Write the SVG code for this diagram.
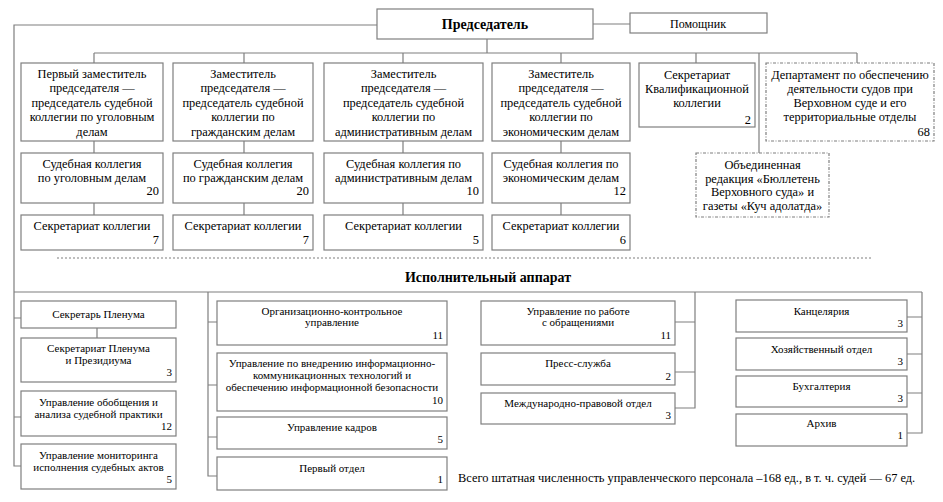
<svg xmlns="http://www.w3.org/2000/svg" width="943" height="502" viewBox="0 0 943 502">
<style>
text{font-family:"Liberation Serif","Times New Roman",serif;fill:#000}
.t{font-size:12.4px;text-anchor:middle}
.n{font-size:12.4px;text-anchor:end}
.s{font-size:11px;text-anchor:middle}
.sn{font-size:11px;text-anchor:end}
.b{font-size:14px;font-weight:bold;text-anchor:middle}
.box{fill:#fff;stroke:#7f7f7f;stroke-width:1.2}
.dash{fill:#fff;stroke:#7f7f7f;stroke-width:1.2;stroke-dasharray:3 1.5 1 1.5}
.ln{fill:none;stroke:#7f7f7f;stroke-width:1.2}
</style>
<rect width="943" height="502" fill="#fff"/>
<g id="connectors" class="ln">
<path d="M377 25H14V466H21"/>
<path d="M593 24H630"/>
<path d="M487 39V53M94 53H857M94 53V63M244 53V63M403 53V63M561 53V63M696 53V63M857 53V63M759 53V153"/>
<path d="M94 141V153M94 203V215M244 141V153M244 203V215M403 141V153M403 203V215M561 141V153M561 203V215"/>
<path d="M57 258H872" stroke-dasharray="2 2"/>
<path d="M14 292H922"/>
<path d="M14 318H21M14 417H21M97 328V338"/>
<path d="M208 292V476H217M208 322H217M208 385H217M208 437H217"/>
<path d="M695 292V408H675M675 322H695M675 372H695"/>
<path d="M922 292V433H907M907 317H922M907 354H922M907 393H922"/>
</g>
<g id="chairman"><rect class="box" x="377" y="9" width="216" height="30"/><text class="b" x="485" y="29">Председатель</text></g>
<g id="assistant"><rect class="box" x="630" y="13" width="137" height="20"/><text class="t" x="698" y="28" style="font-size:12px">Помощник</text></g>
<g id="dep1"><rect class="box" x="21" y="63" width="142" height="78"/>
<text class="t" x="92"><tspan x="92" y="77.5">Первый заместитель</tspan><tspan x="92" y="92">председателя —</tspan><tspan x="92" y="106.5">председатель судебной</tspan><tspan x="92" y="121">коллегии по уголовным</tspan><tspan x="92" y="135.5">делам</tspan></text></g>
<g id="dep2"><rect class="box" x="173" y="63" width="140" height="78"/>
<text class="t" x="243"><tspan x="243" y="77.5">Заместитель</tspan><tspan x="243" y="92">председателя —</tspan><tspan x="243" y="106.5">председатель судебной</tspan><tspan x="243" y="121">коллегии по</tspan><tspan x="243" y="135.5">гражданским делам</tspan></text></g>
<g id="dep3"><rect class="box" x="324" y="63" width="159" height="78"/>
<text class="t" x="403.5"><tspan x="403.5" y="77.5">Заместитель</tspan><tspan x="403.5" y="92">председателя —</tspan><tspan x="403.5" y="106.5">председатель судебной</tspan><tspan x="403.5" y="121">коллегии по</tspan><tspan x="403.5" y="135.5">административным делам</tspan></text></g>
<g id="dep4"><rect class="box" x="492" y="63" width="138" height="78"/>
<text class="t" x="561"><tspan x="561" y="77.5">Заместитель</tspan><tspan x="561" y="92">председателя —</tspan><tspan x="561" y="106.5">председатель судебной</tspan><tspan x="561" y="121">коллегии по</tspan><tspan x="561" y="135.5">экономическим делам</tspan></text></g>
<g id="qual"><rect class="box" x="639" y="63" width="116" height="64"/>
<text class="t" x="697"><tspan x="697" y="79">Секретариат</tspan><tspan x="697" y="93">Квалификационной</tspan><tspan x="697" y="107">коллегии</tspan></text><text class="n" x="751" y="124">2</text></g>
<g id="department"><rect class="dash" x="766" y="63" width="168" height="78"/>
<text class="t" x="850"><tspan x="850" y="79">Департамент по обеспечению</tspan><tspan x="850" y="93">деятельности судов при</tspan><tspan x="850" y="107">Верховном суде и его</tspan><tspan x="850" y="121">территориальные отделы</tspan></text><text class="n" x="930" y="136">68</text></g>
<g id="editorial"><rect class="dash" x="696" y="153" width="133" height="64"/>
<text class="t" x="762.5"><tspan x="762.5" y="169">Объединенная</tspan><tspan x="762.5" y="182.5">редакция «Бюллетень</tspan><tspan x="762.5" y="196">Верховного суда» и</tspan><tspan x="762.5" y="209.5">газеты «Куч адолатда»</tspan></text></g>
<g id="col1"><rect class="box" x="21" y="153" width="142" height="50"/><text class="t" x="92"><tspan x="92" y="168">Судебная коллегия</tspan><tspan x="92" y="181.5">по уголовным делам</tspan></text><text class="n" x="159" y="195">20</text></g>
<g id="col2"><rect class="box" x="173" y="153" width="140" height="50"/><text class="t" x="243"><tspan x="243" y="168">Судебная коллегия</tspan><tspan x="243" y="181.5">по гражданским делам</tspan></text><text class="n" x="309" y="195">20</text></g>
<g id="col3"><rect class="box" x="324" y="153" width="159" height="50"/><text class="t" x="403.5"><tspan x="403.5" y="168">Судебная коллегия по</tspan><tspan x="403.5" y="181.5">административным делам</tspan></text><text class="n" x="479" y="195">10</text></g>
<g id="col4"><rect class="box" x="492" y="153" width="138" height="50"/><text class="t" x="561"><tspan x="561" y="168">Судебная коллегия по</tspan><tspan x="561" y="181.5">экономическим делам</tspan></text><text class="n" x="626" y="195">12</text></g>
<g id="sec1"><rect class="box" x="21" y="215" width="142" height="35"/><text class="t" x="92" y="230">Секретариат коллегии</text><text class="n" x="159" y="244">7</text></g>
<g id="sec2"><rect class="box" x="173" y="215" width="140" height="35"/><text class="t" x="243" y="230">Секретариат коллегии</text><text class="n" x="309" y="244">7</text></g>
<g id="sec3"><rect class="box" x="324" y="215" width="159" height="35"/><text class="t" x="403.5" y="230">Секретариат коллегии</text><text class="n" x="479" y="244">5</text></g>
<g id="sec4"><rect class="box" x="492" y="215" width="138" height="35"/><text class="t" x="561" y="230">Секретариат коллегии</text><text class="n" x="626" y="244">6</text></g>
<text class="b" x="488" y="282">Исполнительный аппарат</text>
<g id="plenum-secretary"><rect class="box" x="21" y="301" width="155" height="27"/><text class="s" x="98.5" y="318">Секретарь Пленума</text></g>
<g id="plenum-secretariat"><rect class="box" x="21" y="338" width="155" height="44"/><text class="s" x="98.5"><tspan x="98.5" y="352">Секретариат Пленума</tspan><tspan x="98.5" y="364">и Президиума</tspan></text><text class="sn" x="172" y="376">3</text></g>
<g id="practice"><rect class="box" x="21" y="391" width="155" height="45"/><text class="s" x="98.5"><tspan x="98.5" y="406">Управление обобщения и</tspan><tspan x="98.5" y="418">анализа судебной практики</tspan></text><text class="sn" x="172" y="430">12</text></g>
<g id="monitoring"><rect class="box" x="21" y="444" width="155" height="45"/><text class="s" x="98.5"><tspan x="98.5" y="459">Управление мониторинга</tspan><tspan x="98.5" y="471">исполнения судебных актов</tspan></text><text class="sn" x="172" y="483">5</text></g>
<g id="org-control"><rect class="box" x="217" y="301" width="230" height="44"/><text class="s" x="332"><tspan x="332" y="315">Организационно-контрольное</tspan><tspan x="332" y="326">управление</tspan></text><text class="sn" x="443" y="339">11</text></g>
<g id="ict"><rect class="box" x="217" y="353" width="230" height="58"/><text class="s" x="332"><tspan x="332" y="367">Управление по внедрению информационно-</tspan><tspan x="332" y="379">коммуникационных технологий и</tspan><tspan x="332" y="391">обеспечению информационной безопасности</tspan></text><text class="sn" x="443" y="404">10</text></g>
<g id="hr"><rect class="box" x="217" y="417" width="230" height="32"/><text class="s" x="332" y="431">Управление кадров</text><text class="sn" x="443" y="443">5</text></g>
<g id="first-dept"><rect class="box" x="217" y="457" width="230" height="33"/><text class="s" x="332" y="472">Первый отдел</text><text class="sn" x="443" y="483">1</text></g>
<g id="appeals"><rect class="box" x="481" y="301" width="194" height="44"/><text class="s" x="578"><tspan x="578" y="315">Управление по работе</tspan><tspan x="578" y="326">с обращениями</tspan></text><text class="sn" x="671" y="339">11</text></g>
<g id="press"><rect class="box" x="481" y="353" width="194" height="32"/><text class="s" x="578" y="367">Пресс-служба</text><text class="sn" x="671" y="380">2</text></g>
<g id="intl"><rect class="box" x="481" y="393" width="194" height="31"/><text class="s" x="578" y="407">Международно-правовой отдел</text><text class="sn" x="671" y="419">3</text></g>
<g id="office"><rect class="box" x="736" y="300" width="171" height="32"/><text class="s" x="821.5" y="315">Канцелярия</text><text class="sn" x="903" y="327">3</text></g>
<g id="household"><rect class="box" x="736" y="338" width="171" height="32"/><text class="s" x="821.5" y="353">Хозяйственный отдел</text><text class="sn" x="903" y="365">3</text></g>
<g id="accounting"><rect class="box" x="736" y="376" width="171" height="31"/><text class="s" x="821.5" y="390">Бухгалтерия</text><text class="sn" x="903" y="402">3</text></g>
<g id="archive"><rect class="box" x="736" y="414" width="171" height="32"/><text class="s" x="821.5" y="427">Архив</text><text class="sn" x="903" y="439">1</text></g>
<text x="458" y="482" style="font-size:12.4px">Всего штатная численность управленческого персонала –168 ед., в т. ч. судей — 67 ед.</text>
</svg>
